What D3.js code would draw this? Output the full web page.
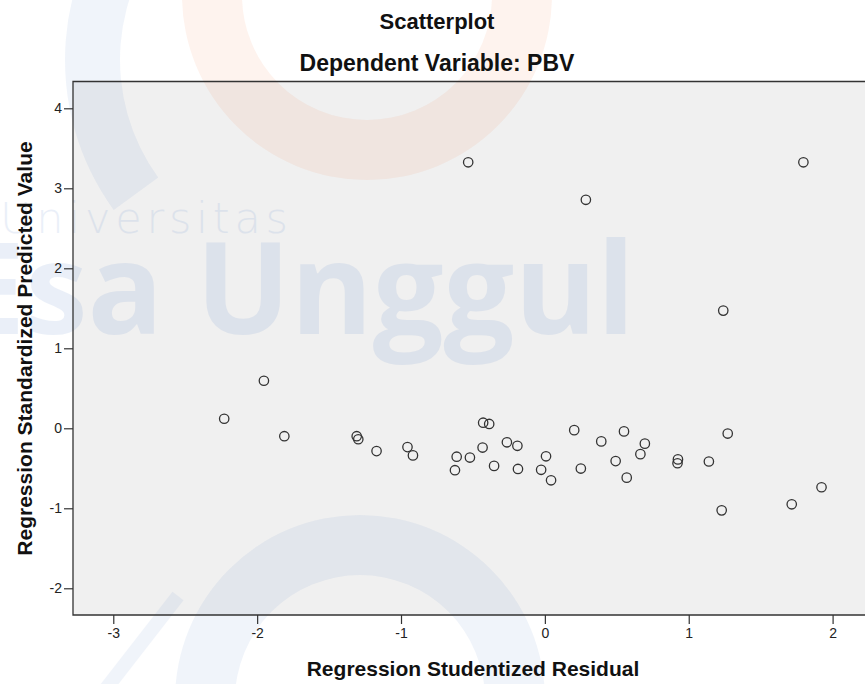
<!DOCTYPE html>
<html>
<head>
<meta charset="utf-8">
<script src="https://cdn.jsdelivr.net/npm/d3@7"></script>
<style>
  body { margin: 0; background: #fff; }
  svg { display: block; font-family: "Liberation Sans", Arial, sans-serif; }
  .tick text { fill: #222; font-size: 14px; }
  .tick line { stroke: #333; stroke-width: 1.2; }
</style>
</head>
<body>
<div id="chart"></div>
<script>
// Regression Studentized Residual (x) and Standardized Predicted Value (y)
var residual = [
  -0.533, 1.797, 0.285, 1.240, -1.953, -2.229, -1.811, -1.308, -1.297, -1.170,
  -0.955, -0.917, -0.613, -0.625, -0.521, -0.429, -0.387, -0.433, -0.353, -0.264,
  -0.191, -0.187, -0.026, 0.008, 0.043, 0.204, 0.250, 0.392, 0.492, 0.550,
  0.569, 0.664, 0.695, 0.925, 0.922, 1.140, 1.271, 1.229, 1.716, 1.923
];
var predicted = [
  3.325, 3.325, 2.856, 1.471, 0.594, 0.119, -0.099, -0.099, -0.137, -0.285,
  -0.235, -0.339, -0.355, -0.524, -0.366, 0.070, 0.054, -0.241, -0.470, -0.175,
  -0.219, -0.508, -0.519, -0.350, -0.650, -0.023, -0.503, -0.164, -0.410, -0.039,
  -0.617, -0.323, -0.192, -0.389, -0.437, -0.415, -0.066, -1.026, -0.950, -0.737
];
var xTicks = [-3, -2, -1, 0, 1, 2];
var yTicks = [-2, -1, 0, 1, 2, 3, 4];

var width = 865, height = 684;
var plot = { left: 73, right: 870, top: 81.5, bottom: 615 };

var x = d3.scaleLinear()
  .domain([-3.28, 2.26])
  .range([plot.left, plot.right]);

var y = d3.scaleLinear()
  .domain([-2.334, 4.335])
  .range([plot.bottom, plot.top]);

var svg = d3.select("#chart").append("svg")
  .attr("width", width)
  .attr("height", height);

// plot background
svg.append("rect")
  .attr("x", plot.left)
  .attr("y", plot.top)
  .attr("width", plot.right - plot.left)
  .attr("height", plot.bottom - plot.top)
  .attr("fill", "#f0f0f0");

// watermark (university logo behind the chart)
var wm = svg.append("g").attr("class", "watermark");

function band(r0, r1, a0, a1) {
  return d3.arc()
    .innerRadius(r0).outerRadius(r1)
    .startAngle(a0).endAngle(a1)();
}

wm.append("path")
  .attr("transform", "translate(367,-5)")
  .attr("d", band(125, 185, Math.PI / 2, Math.PI * 1.5))
  .attr("fill", "#f26522")
  .attr("opacity", 0.08);

wm.append("path")
  .attr("transform", "translate(320,60)")
  .attr("d", band(200, 255, Math.PI * 1.3, Math.PI * 1.75))
  .attr("fill", "#3b6fc4")
  .attr("opacity", 0.08);

wm.append("path")
  .attr("transform", "translate(360,700)")
  .attr("d", band(125, 185, -Math.PI / 2, Math.PI / 2))
  .attr("fill", "#3b6fc4")
  .attr("opacity", 0.08);

wm.append("path")
  .attr("d", "M105,690L178,596")
  .attr("stroke", "#3b6fc4")
  .attr("stroke-width", 14)
  .attr("opacity", 0.07);

wm.append("text")
  .attr("x", 0)
  .attr("y", 233)
  .attr("textLength", 288)
  .attr("lengthAdjust", "spacing")
  .style("font-family", "'DejaVu Sans'")
  .style("font-weight", 200)
  .style("font-size", "43px")
  .attr("fill", "#3b6fc4")
  .attr("opacity", 0.1)
  .text("Universitas");

wm.append("text")
  .attr("x", -45)
  .attr("y", 334)
  .attr("textLength", 680)
  .attr("lengthAdjust", "spacingAndGlyphs")
  .style("font-family", "'Open Sans', sans-serif")
  .style("font-weight", "bold")
  .style("font-size", "128px")
  .attr("fill", "#3b6fc4")
  .attr("opacity", 0.1)
  .text("Esa Unggul");

// plot frame
svg.append("path")
  .attr("d", "M" + plot.right + "," + plot.top + "H" + plot.left + "V" + plot.bottom + "H" + plot.right)
  .attr("fill", "none")
  .attr("stroke", "#333")
  .attr("stroke-width", 1.3);

var xAxis = d3.axisBottom(x)
  .tickValues(xTicks)
  .tickFormat(function (d) { return String(d); })
  .tickSize(9)
  .tickPadding(4);

var yAxis = d3.axisLeft(y)
  .tickValues(yTicks)
  .tickFormat(function (d) { return String(d); })
  .tickSize(9)
  .tickPadding(2);

svg.append("g")
  .attr("transform", "translate(0," + plot.bottom + ")")
  .call(xAxis)
  .call(function (g) { g.select(".domain").remove(); });

svg.append("g")
  .attr("transform", "translate(" + plot.left + ",0)")
  .call(yAxis)
  .call(function (g) { g.select(".domain").remove(); });

// points
svg.selectAll(".dot")
  .data(residual)
  .enter().append("circle")
  .attr("class", "dot")
  .attr("cx", function (d) { return x(d); })
  .attr("cy", function (d, i) { return y(predicted[i]); })
  .attr("r", 4.7)
  .attr("fill", "none")
  .attr("stroke", "#333")
  .attr("stroke-width", 1.3);

// titles
svg.append("text")
  .attr("x", 437)
  .attr("y", 29)
  .attr("text-anchor", "middle")
  .style("font-size", "22px")
  .style("font-weight", "bold")
  .attr("fill", "#111")
  .text("Scatterplot");

svg.append("text")
  .attr("x", 437)
  .attr("y", 71)
  .attr("text-anchor", "middle")
  .style("font-size", "23px")
  .style("font-weight", "bold")
  .attr("fill", "#111")
  .text("Dependent Variable: PBV");

svg.append("text")
  .attr("x", 473)
  .attr("y", 676)
  .attr("text-anchor", "middle")
  .style("font-size", "21px")
  .style("font-weight", "bold")
  .attr("fill", "#111")
  .text("Regression Studentized Residual");

svg.append("text")
  .attr("transform", "translate(31.5,348.5) rotate(-90)")
  .attr("text-anchor", "middle")
  .style("font-size", "21px")
  .style("font-weight", "bold")
  .attr("fill", "#111")
  .text("Regression Standardized Predicted Value");
</script>
</body>
</html>
